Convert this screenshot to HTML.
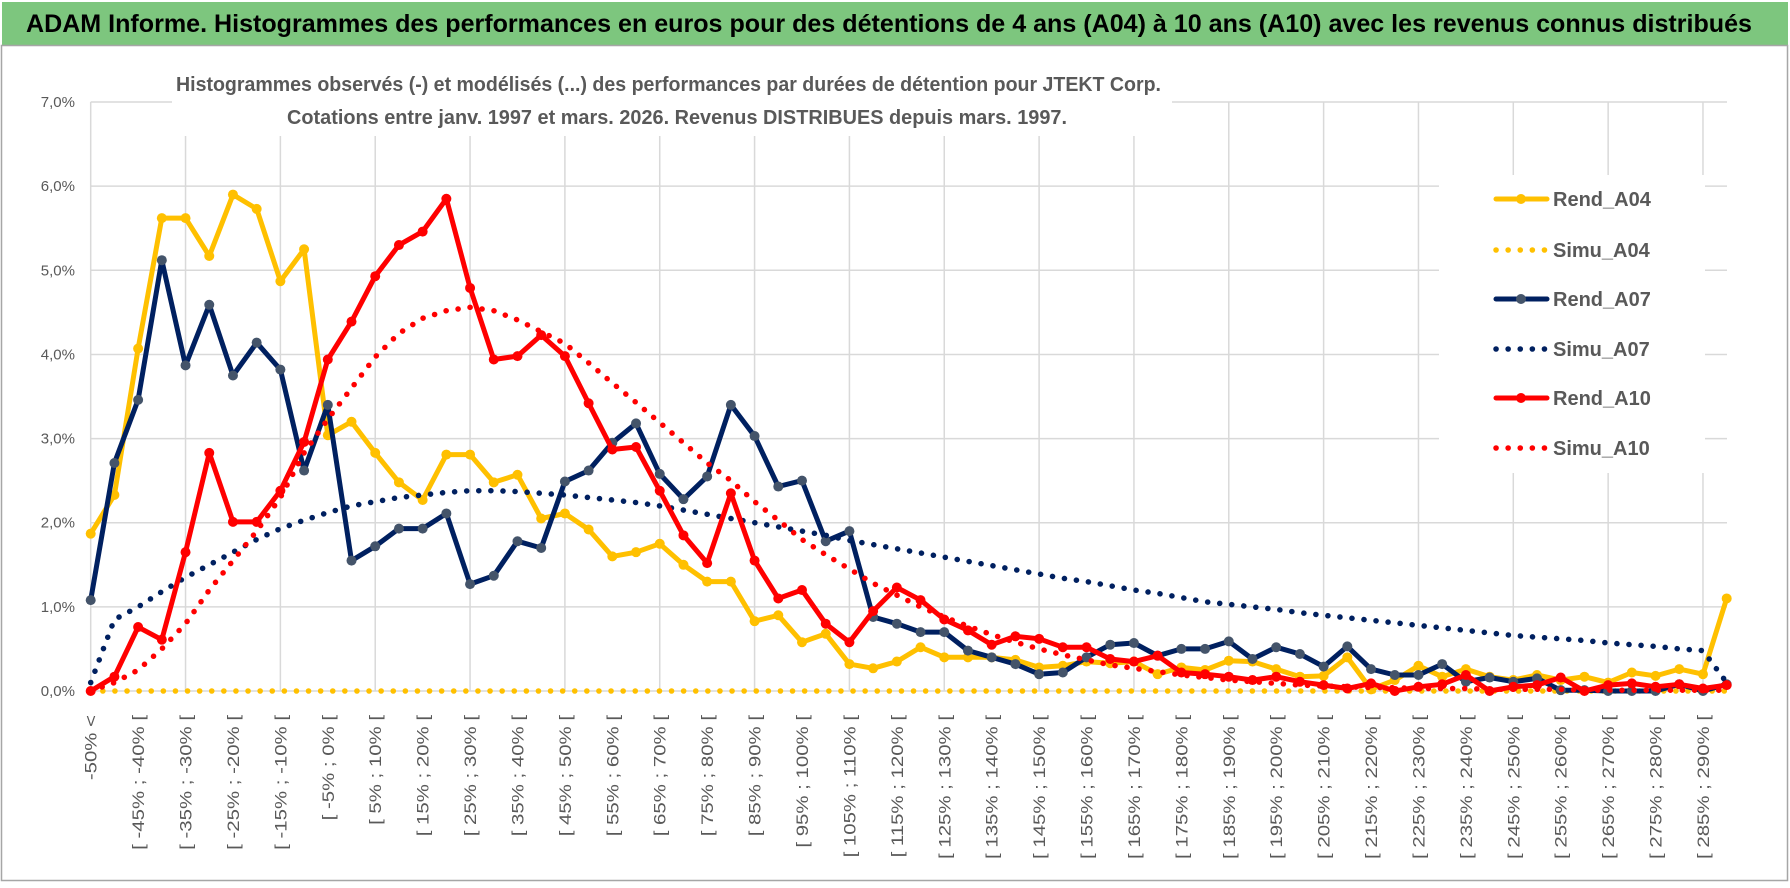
<!DOCTYPE html>
<html><head><meta charset="utf-8">
<style>
html,body{margin:0;padding:0;background:#fff;}
svg{display:block;font-family:"Liberation Sans",sans-serif;}
</style></head>
<body>
<svg id="chart" width="1790" height="888" viewBox="0 0 1790 888" xmlns="http://www.w3.org/2000/svg">
  <rect x="0" y="0" width="1790" height="888" fill="#fff"/>
  <rect x="2" y="2" width="1786" height="43" fill="#7DC67E"/>
  <text x="26" y="32" font-size="25" font-weight="bold" fill="#000" textLength="1726" lengthAdjust="spacingAndGlyphs">ADAM Informe. Histogrammes des performances en euros pour des détentions de 4 ans (A04) à 10 ans (A10) avec les revenus connus distribués</text>
  <rect x="1.5" y="45.5" width="1786" height="835" fill="none" stroke="#a6a6a6" stroke-width="1.5"/>
  <g id="grid"></g>
  <rect x="172" y="58" width="1000" height="78" fill="#fff"/>
  <text x="176" y="91" font-size="20" font-weight="bold" fill="#595959" textLength="985" lengthAdjust="spacingAndGlyphs">Histogrammes observés (-) et modélisés (...) des performances par durées de détention pour JTEKT Corp.</text>
  <text x="287" y="124" font-size="20" font-weight="bold" fill="#595959" textLength="780" lengthAdjust="spacingAndGlyphs">Cotations entre janv. 1997 et mars. 2026. Revenus DISTRIBUES depuis mars. 1997.</text>
  <g id="yaxis"></g>
  <g id="xaxis"></g>
  <g id="series"></g>
  <g id="legend"></g>
</svg>
<script>
const categories = ["-50% <","[ -50% ; -45% [","[ -45% ; -40% [","[ -40% ; -35% [","[ -35% ; -30% [","[ -30% ; -25% [","[ -25% ; -20% [","[ -20% ; -15% [","[ -15% ; -10% [","[ -10% ; -5% [",
"[ -5% ; 0% [","[ 0% ; 5% [","[ 5% ; 10% [","[ 10% ; 15% [","[ 15% ; 20% [","[ 20% ; 25% [","[ 25% ; 30% [","[ 30% ; 35% [","[ 35% ; 40% [","[ 40% ; 45% [",
"[ 45% ; 50% [","[ 50% ; 55% [","[ 55% ; 60% [","[ 60% ; 65% [","[ 65% ; 70% [","[ 70% ; 75% [","[ 75% ; 80% [","[ 80% ; 85% [","[ 85% ; 90% [","[ 90% ; 95% [",
"[ 95% ; 100% [","[ 100% ; 105% [","[ 105% ; 110% [","[ 110% ; 115% [","[ 115% ; 120% [","[ 120% ; 125% [","[ 125% ; 130% [","[ 130% ; 135% [","[ 135% ; 140% [","[ 140% ; 145% [",
"[ 145% ; 150% [","[ 150% ; 155% [","[ 155% ; 160% [","[ 160% ; 165% [","[ 165% ; 170% [","[ 170% ; 175% [","[ 175% ; 180% [","[ 180% ; 185% [","[ 185% ; 190% [","[ 190% ; 195% [",
"[ 195% ; 200% [","[ 200% ; 205% [","[ 205% ; 210% [","[ 210% ; 215% [","[ 215% ; 220% [","[ 220% ; 225% [","[ 225% ; 230% [","[ 230% ; 235% [","[ 235% ; 240% [","[ 240% ; 245% [",
"[ 245% ; 250% [","[ 250% ; 255% [","[ 255% ; 260% [","[ 260% ; 265% [","[ 265% ; 270% [","[ 270% ; 275% [","[ 275% ; 280% [","[ 280% ; 285% [","[ 285% ; 290% [","[ 290% ; 295% ["];
const rendA04 = [1.87,2.33,4.07,5.62,5.62,5.17,5.90,5.73,4.87,5.25,
3.04,3.20,2.83,2.48,2.27,2.81,2.81,2.48,2.57,2.05,
2.11,1.92,1.60,1.65,1.75,1.50,1.30,1.30,0.83,0.90,
0.58,0.68,0.32,0.27,0.35,0.52,0.40,0.40,0.40,0.37,
0.28,0.30,0.35,0.33,0.35,0.20,0.28,0.25,0.36,0.35,
0.26,0.17,0.18,0.40,0.02,0.13,0.30,0.17,0.26,0.17,
0.13,0.19,0.13,0.17,0.10,0.22,0.18,0.26,0.20,1.10];
const simuA04 = [0,0,0,0,0,0,0,0,0,0,0,0,0,0,0,0,0,0,0,0,0,0,0,0,0,0,0,0,0,0,0,0,0,0,0,0,0,0,0,0,0,0,0,0,0,0,0,0,0,0,0,0,0,0,0,0,0,0,0,0,0,0,0,0,0,0,0,0,0,0];
const rendA07 = [1.08,2.71,3.46,5.12,3.87,4.59,3.75,4.14,3.82,2.62,
3.40,1.55,1.72,1.93,1.93,2.11,1.27,1.37,1.78,1.70,
2.49,2.62,2.95,3.18,2.58,2.28,2.55,3.40,3.03,2.43,
2.50,1.78,1.90,0.88,0.80,0.70,0.70,0.48,0.40,0.32,
0.20,0.22,0.40,0.55,0.57,0.42,0.50,0.50,0.59,0.38,
0.52,0.44,0.29,0.53,0.26,0.19,0.19,0.32,0.11,0.16,
0.11,0.15,0.01,0.01,0.00,0.00,0.00,0.08,0.00,0.08];
const simuA07 = [0.10,0.85,1.00,1.18,1.35,1.50,1.65,1.80,1.93,2.03,
2.12,2.20,2.25,2.30,2.33,2.36,2.38,2.38,2.37,2.35,
2.33,2.30,2.27,2.24,2.20,2.15,2.10,2.05,2.00,1.95,
1.90,1.85,1.79,1.74,1.69,1.64,1.59,1.54,1.49,1.44,
1.39,1.34,1.30,1.25,1.20,1.16,1.11,1.06,1.03,1.00,
0.97,0.93,0.90,0.87,0.84,0.81,0.78,0.75,0.72,0.69,
0.66,0.64,0.62,0.60,0.57,0.55,0.53,0.50,0.48,0.10];
const rendA10 = [0,0.17,0.76,0.61,1.65,2.83,2.01,2.01,2.38,2.96,
3.94,4.39,4.93,5.30,5.46,5.85,4.79,3.94,3.98,4.23,
3.98,3.42,2.87,2.90,2.38,1.85,1.52,2.35,1.55,1.10,
1.20,0.80,0.58,0.95,1.23,1.08,0.85,0.72,0.55,0.65,
0.62,0.52,0.52,0.38,0.35,0.42,0.22,0.20,0.17,0.13,
0.17,0.11,0.07,0.03,0.09,0.00,0.05,0.08,0.19,0.00,
0.05,0.07,0.16,0.00,0.07,0.09,0.05,0.08,0.03,0.07];
const simuA10 = [0,0.10,0.25,0.50,0.80,1.20,1.55,1.90,2.30,2.83,
3.23,3.60,3.97,4.25,4.43,4.52,4.56,4.52,4.41,4.27,
4.13,3.90,3.66,3.43,3.19,2.95,2.71,2.50,2.25,2.03,
1.80,1.62,1.45,1.28,1.14,1.00,0.88,0.77,0.67,0.58,
0.50,0.43,0.37,0.31,0.27,0.23,0.19,0.16,0.13,0.11,
0.09,0.07,0.06,0.05,0.04,0.04,0.03,0.03,0.03,0.02,
0.02,0.02,0.02,0.01,0.01,0.01,0.01,0.01,0.01,0.01];
const yTicks = [0,1,2,3,4,5,6,7];
const yTickLabels = ["0,0%","1,0%","2,0%","3,0%","4,0%","5,0%","6,0%","7,0%"];
const seriesNames = ["Rend_A04","Simu_A04","Rend_A07","Simu_A07","Rend_A10","Simu_A10"];

const NS = "http://www.w3.org/2000/svg";
const X0 = 90.7, STEP = 23.71, Y0 = 691, PPU = 84.14, XR = 1727;
function xScale(i){ return X0 + i * STEP; }
function yScale(v){ return Y0 - v * PPU; }
function mk(tag, attrs, parent){ const e = document.createElementNS(NS, tag); for (const k in attrs) e.setAttribute(k, attrs[k]); parent.appendChild(e); return e; }

const grid = document.getElementById('grid');
yTicks.forEach(function(t){
  const l = mk('line', {x1:X0, x2:XR, y1:yScale(t), y2:yScale(t), stroke:'#d9d9d9', 'stroke-width':1.5}, grid);
  
  
});
for (let i = 0; i < categories.length; i += 4) {
  const l = mk('line', {x1:xScale(i), x2:xScale(i), y1:yScale(7), y2:Y0, stroke:'#d9d9d9', 'stroke-width':1.5}, grid);
  
  
}

const yax = document.getElementById('yaxis');
yTicks.forEach(function(t, i){
  const tx = mk('text', {x:75, y:yScale(t)+5, 'text-anchor':'end', 'font-size':15, fill:'#595959'}, yax);
  tx.textContent = yTickLabels[i];
  
  
});

const xax = document.getElementById('xaxis');
categories.forEach(function(c, i){
  if (i % 2 !== 0) return;
  const x = xScale(i) + 6;
  const tx = mk('text', {x:0, y:0, 'text-anchor':'end', 'font-size':17, fill:'#595959', transform:'translate(' + x + ',715) rotate(-90) scale(1.2,1)'}, xax);
  tx.textContent = c;
  
  
});

const sg = document.getElementById('series');
function pts(arr){ return arr.map(function(v, i){ return xScale(i).toFixed(1) + ',' + yScale(v).toFixed(1); }).join(' '); }
function solid(arr, color, marker, name){
  const g = mk('g', {}, sg);
  
  
  const pl = mk('polyline', {points:pts(arr), fill:'none', stroke:color, 'stroke-width':5, 'stroke-linejoin':'round', 'stroke-linecap':'round'}, g);
  
  
  arr.forEach(function(v, i){
    const c = mk('circle', {cx:xScale(i), cy:yScale(v), r:5, fill:marker}, g);
    
    
  });
}
function dotted(arr, color, name){
  const pl = mk('polyline', {points:pts(arr), fill:'none', stroke:color, 'stroke-width':5.5, 'stroke-linecap':'round', 'stroke-dasharray':'0.1 12'}, sg);
  
  
}
solid(rendA04, '#FFC000', '#FFC000', 'rend-a04');
dotted(simuA04, '#FFC000', 'simu-a04');
solid(rendA07, '#002060', '#44546A', 'rend-a07');
dotted(simuA07, '#002060', 'simu-a07');
solid(rendA10, '#FF0000', '#FF0000', 'rend-a10');
dotted(simuA10, '#FF0000', 'simu-a10');

const lg = document.getElementById('legend');
const lbg = mk('rect', {x:1439, y:175, width:266, height:298, fill:'#fff'}, lg);


const lColors = ['#FFC000','#FFC000','#002060','#002060','#FF0000','#FF0000'];
const lMarkers = ['#FFC000',null,'#44546A',null,'#FF0000',null];
const lY = [199,250,299,349,398,448];
seriesNames.forEach(function(n, i){
  const g = mk('g', {}, lg);
  
  
  if (lMarkers[i]) {
    mk('line', {x1:1496, x2:1547, y1:lY[i], y2:lY[i], stroke:lColors[i], 'stroke-width':5, 'stroke-linecap':'round'}, g);
    mk('circle', {cx:1521, cy:lY[i], r:5, fill:lMarkers[i]}, g);
  } else {
    mk('line', {x1:1496, x2:1547, y1:lY[i], y2:lY[i], stroke:lColors[i], 'stroke-width':5.5, 'stroke-linecap':'round', 'stroke-dasharray':'0.1 12'}, g);
  }
  const t = mk('text', {x:1553, y:lY[i]+7, 'font-size':20, 'font-weight':'bold', fill:'#595959'}, g);
  t.textContent = n;
});
</script>
</body></html>
